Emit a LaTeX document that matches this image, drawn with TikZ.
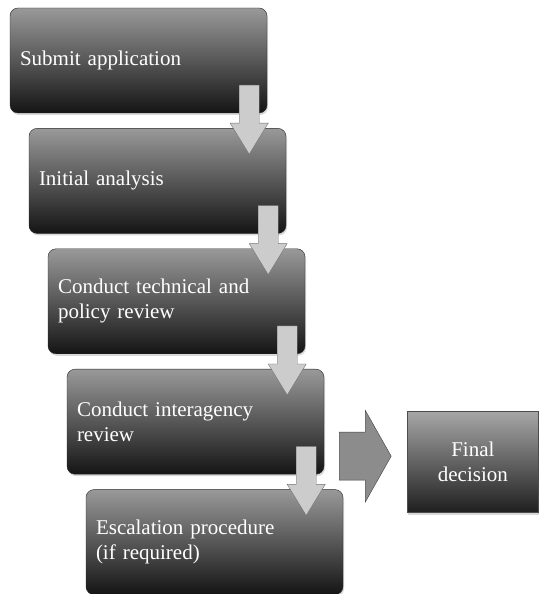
\documentclass[tikz,border=0pt]{standalone}
\usepackage{fontspec}
\setmainfont{Liberation Serif}
\usepackage{tikz}
\usetikzlibrary{calc, positioning, shadows}

% block arrow going down from one stage into the next
\newcommand{\flowdown}[2]{%
  \draw[downarrow] let \p1 = (#1.south east), \p2 = (#2.north) in
    (\x1-28pt,\y1+28pt) -- (\x1-8pt,\y1+28pt) -- (\x1-8pt,\y2+5pt)
    -- (\x1+1pt,\y2+5pt) -- (\x1-18pt,\y2-26pt) -- (\x1-37pt,\y2+5pt)
    -- (\x1-28pt,\y2+5pt) -- cycle;}

\begin{document}
\begin{tikzpicture}[x=1pt, y=1pt,
    stage/.style={
      rectangle,
      rounded corners=8pt,
      draw=black!85,
      top color=black!40,
      bottom color=black!92,
      minimum width=257pt,
      minimum height=105pt,
      inner xsep=10pt,
      text width=237pt,
      align=left,
      text=white,
      font=\fontsize{21}{25}\selectfont,
      drop shadow={shadow xshift=1pt, shadow yshift=-2pt, fill=black!30}
    },
    decision/.style={
      rectangle,
      draw=black!70,
      top color=black!35,
      bottom color=black!88,
      minimum width=131pt,
      minimum height=101pt,
      align=center,
      text=white,
      font=\fontsize{21}{25}\selectfont,
      drop shadow={shadow xshift=1pt, shadow yshift=-2pt, fill=black!30}
    },
    downarrow/.style={fill=black!20, draw=black!55, line join=miter},
    bigarrow/.style={fill=black!45, draw=black!75, line join=miter}]
  \useasboundingbox (0,0) rectangle (539,594);

  \node[stage] (submit) at (138.5,533.5) {Submit application};
  \node[stage, below=15pt of submit, xshift=19pt] (initial) {Initial analysis};
  \node[stage, below=15pt of initial, xshift=19pt] (technical) {Conduct technical and\\policy review};
  \node[stage, below=15pt of technical, xshift=19pt] (interagency) {Conduct interagency\\review};
  \node[stage, below=15pt of interagency, xshift=19pt] (escalation) {Escalation procedure\\(if required)};
  \node[decision, right=83pt of interagency, yshift=-40.5pt] (final) {Final\\decision};

  \flowdown{submit}{initial}
  \flowdown{initial}{technical}
  \flowdown{technical}{interagency}
  \flowdown{interagency}{escalation}

  \draw[bigarrow] let \p1 = (interagency.east), \p2 = (final.west) in
    (\x1+15pt,\y2-18pt) -- (\x1+41pt,\y2-18pt) -- (\x1+41pt,\y2-40pt)
    -- (\x2-16pt,\y2+6pt) -- (\x1+41pt,\y2+52pt) -- (\x1+41pt,\y2+30pt)
    -- (\x1+15pt,\y2+30pt) -- cycle;
\end{tikzpicture}
\end{document}
